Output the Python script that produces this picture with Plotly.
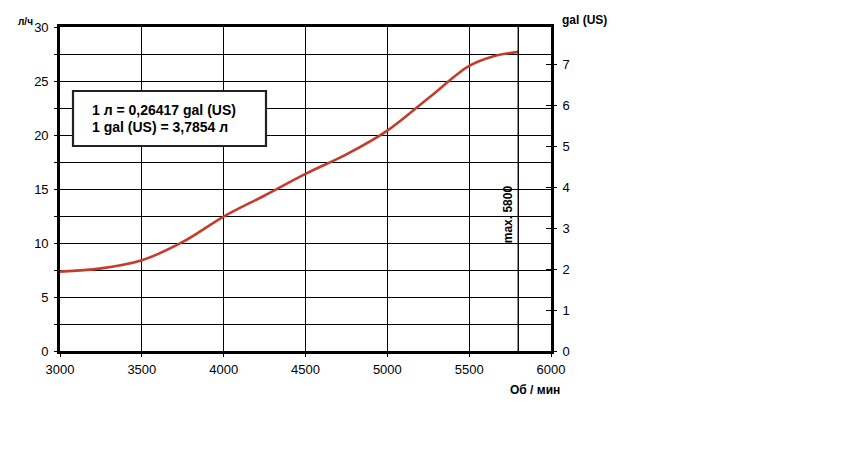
import plotly.graph_objects as go

# Data
rpm = [3000, 3250, 3500, 3750, 4000, 4250, 4500, 4750, 5000, 5250, 5500, 5650, 5800]
fuel_lph = [7.35, 7.65, 8.4, 10.1, 12.45, 14.4, 16.4, 18.2, 20.4, 23.4, 26.4, 27.3, 27.7]
L_TO_GAL = 0.26417
fuel_gal = [v * L_TO_GAL for v in fuel_lph]
MAX_RPM = 5800
x_ticks = [3000, 3500, 4000, 4500, 5000, 5500, 6000]
y_ticks = [0, 5, 10, 15, 20, 25, 30]
y2_ticks = [0, 1, 2, 3, 4, 5, 6, 7]

FONT = "Liberation Sans"
OX, OY = 8, 8  # page body offset
W, H = 863 - OX, 464 - OY
PL, PT, PW, PH = 60 - OX, 27 - OY, 491, 324


def px(xpix):
    return (xpix - 60) / PW


def py(ypix):
    return (351 - ypix) / PH


fig = go.Figure()
fig.add_trace(go.Scatter(x=rpm, y=fuel_lph, mode="lines",
                         line=dict(color="#c43d2c", width=2.6, shape="spline", smoothing=1.0),
                         showlegend=False, hoverinfo="skip"))
fig.add_trace(go.Scatter(x=rpm, y=fuel_gal, mode="lines", yaxis="y2",
                         line=dict(color="rgba(0,0,0,0)", width=0),
                         showlegend=False, hoverinfo="skip"))
fig.add_trace(go.Scatter(x=rpm, y=fuel_gal, mode="lines", yaxis="y3",
                         line=dict(color="rgba(0,0,0,0)", width=0),
                         showlegend=False, hoverinfo="skip"))

fig.add_shape(type="line", xref="x", yref="paper", x0=MAX_RPM, x1=MAX_RPM, y0=0, y1=1,
              line=dict(color="black", width=1.4))

fig.update_layout(
    width=W, height=H,
    margin=dict(l=PL, r=W - PL - PW, t=PT, b=H - PT - PH),
    paper_bgcolor="white", plot_bgcolor="white",
    font=dict(family=FONT, size=13, color="black"),
    xaxis=dict(range=[3000, 6000], tickvals=x_ticks, showgrid=True, gridcolor="black", gridwidth=1.4,
               showline=True, linecolor="black", linewidth=2.6, mirror=True,
               ticks="outside", ticklen=3, tickcolor="black", zeroline=False,
               tickfont=dict(family=FONT, size=13), ticklabelstandoff=2),
    yaxis=dict(range=[0, 30], tickvals=y_ticks, showgrid=True, gridcolor="black", gridwidth=1.4,
               minor=dict(dtick=2.5, showgrid=True, gridcolor="black", gridwidth=1.4,
                          ticks="outside", ticklen=3, tickcolor="black"),
               showline=True, linecolor="black", linewidth=2.6, mirror=True,
               ticks="outside", ticklen=3, tickcolor="black", zeroline=False,
               tickfont=dict(family=FONT, size=13), ticklabelstandoff=3),
    yaxis2=dict(range=[0, 30 * L_TO_GAL], tickvals=y2_ticks, overlaying="y", side="right",
                showgrid=False, zeroline=False, showline=False,
                ticks="outside", ticklen=5, tickcolor="black",
                tickfont=dict(family=FONT, size=13), ticklabelstandoff=3),
    yaxis3=dict(range=[0, 30 * L_TO_GAL], tickvals=y2_ticks, overlaying="y", side="right",
                showgrid=False, zeroline=False, showline=False, showticklabels=False,
                ticks="inside", ticklen=5, tickcolor="black"),
)

fig.add_shape(type="rect", xref="paper", yref="paper",
              x0=px(73), x1=px(266), y0=py(146), y1=py(91),
              line=dict(color="#222222", width=2.2), fillcolor="white", layer="above")
fig.add_annotation(xref="paper", yref="paper", x=px(90), y=py(110),
                   text="<b>1 л = 0,26417 gal (US)</b>", showarrow=False,
                   xanchor="left", yanchor="middle", font=dict(family=FONT, size=14))
fig.add_annotation(xref="paper", yref="paper", x=px(90), y=py(127),
                   text="<b>1 gal (US) = 3,7854 л</b>", showarrow=False,
                   xanchor="left", yanchor="middle", font=dict(family=FONT, size=14))

fig.add_annotation(xref="paper", yref="paper", x=px(25), y=py(22),
                   text="<b>л/ч</b>", showarrow=False, xanchor="center", yanchor="middle",
                   font=dict(family=FONT, size=10))
fig.add_annotation(xref="paper", yref="paper", x=px(584), y=py(20),
                   text="<b>gal (US)</b>", showarrow=False, xanchor="center", yanchor="middle",
                   font=dict(family=FONT, size=12))
fig.add_annotation(xref="paper", yref="paper", x=px(535), y=py(390),
                   text="<b>Об / мин</b>", showarrow=False, xanchor="center", yanchor="middle",
                   font=dict(family=FONT, size=12))
fig.add_annotation(xref="x", yref="paper", x=MAX_RPM, xshift=-10, y=py(214),
                   text="<b>max. 5800</b>", textangle=-90, showarrow=False,
                   xanchor="center", yanchor="middle", font=dict(family=FONT, size=12))

fig.write_html("out.html")
